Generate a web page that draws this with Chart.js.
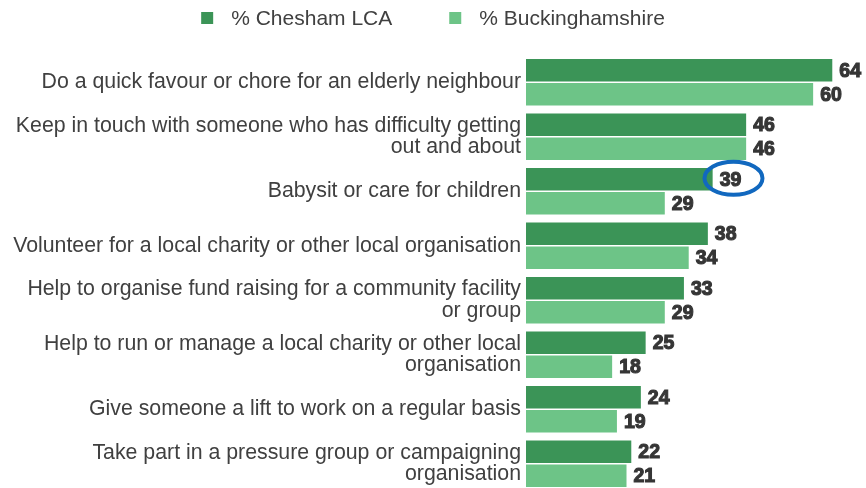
<!DOCTYPE html>
<html>
<head>
<meta charset="utf-8">
<script src="https://cdn.jsdelivr.net/npm/chart.js@4.4.1/dist/chart.umd.min.js"></script>
<style>
  html, body { margin: 0; padding: 0; background: #ffffff; overflow: hidden; }
  #wrap { width: 866px; height: 488px; overflow: hidden; }
  canvas { display: block; }
</style>
</head>
<body>
<div id="wrap"><canvas id="c" width="866" height="491"></canvas></div>
<script>
const categories = [
  "Do a quick favour or chore for an elderly neighbour",
  ["Keep in touch with someone who has difficulty getting", "out and about"],
  "Babysit or care for children",
  "Volunteer for a local charity or other local organisation",
  ["Help to organise fund raising for a community facility", "or group"],
  ["Help to run or manage a local charity or other local", "organisation"],
  "Give someone a lift to work on a regular basis",
  ["Take part in a pressure group or campaigning", "organisation"]
];
const seriesNames = ["% Chesham LCA", "% Buckinghamshire"];
const cheshamValues = [64, 46, 39, 38, 33, 25, 24, 22];
const buckinghamshireValues = [60, 46, 29, 34, 29, 18, 19, 21];
const highlighted = { dataset: 0, index: 2 };

const DARK = '#3b9457';
const LIGHT = '#6dc487';
const FONT = "'Liberation Sans', Arial, sans-serif";

const legendPlugin = {
  id: 'customLegend',
  afterDraw(chart) {
    const ctx = chart.ctx;
    ctx.save();
    ctx.font = '21px ' + FONT;
    ctx.textBaseline = 'middle';
    ctx.textAlign = 'left';
    const box = 12, gapText = 18, gapItem = 57;
    const items = chart.data.datasets.map(d => ({ text: d.label, color: d.backgroundColor, w: ctx.measureText(d.label).width }));
    let total = 0;
    items.forEach((it, i) => { total += box + gapText + it.w + (i < items.length - 1 ? gapItem : 0); });
    let x = (chart.width - total) / 2;
    const cy = 18;
    items.forEach(it => {
      ctx.fillStyle = it.color;
      ctx.fillRect(x, cy - box / 2, box, box);
      ctx.fillStyle = '#404040';
      ctx.fillText(it.text, x + box + gapText, cy + 1);
      x += box + gapText + it.w + gapItem;
    });
    ctx.restore();
  }
};

const valueLabelPlugin = {
  id: 'valueLabels',
  afterDatasetsDraw(chart) {
    const ctx = chart.ctx;
    ctx.save();
    ctx.font = 'bold 19.5px ' + FONT;
    ctx.textBaseline = 'middle';
    ctx.textAlign = 'left';
    ctx.fillStyle = '#363636';
    ctx.strokeStyle = '#363636';
    ctx.lineWidth = 1.1;
    chart.data.datasets.forEach((ds, di) => {
      const meta = chart.getDatasetMeta(di);
      meta.data.forEach((bar, i) => {
        const txt = String(ds.data[i]);
        const tx = bar.x + 7, ty = bar.y + 1;
        ctx.fillText(txt, tx, ty);
        ctx.strokeText(txt, tx, ty);
        if (di === highlighted.dataset && i === highlighted.index) {
          const w = ctx.measureText(txt).width;
          ctx.save();
          ctx.beginPath();
          ctx.ellipse(tx + w / 2 + 3, bar.y - 1, 29, 16.5, 0, 0, Math.PI * 2);
          ctx.lineWidth = 4;
          ctx.strokeStyle = '#1168bf';
          ctx.stroke();
          ctx.restore();
        }
      });
    });
    ctx.restore();
  }
};

new Chart(document.getElementById('c'), {
  type: 'bar',
  data: {
    labels: categories,
    datasets: [
      { label: seriesNames[0], data: cheshamValues, backgroundColor: DARK,
        categoryPercentage: 0.88, barPercentage: 0.9375 },
      { label: seriesNames[1], data: buckinghamshireValues, backgroundColor: LIGHT,
        categoryPercentage: 0.88, barPercentage: 0.9375 }
    ]
  },
  options: {
    indexAxis: 'y',
    responsive: false,
    animation: false,
    devicePixelRatio: 1,
    layout: { padding: { top: 55, right: 5, bottom: 0, left: 0 } },
    plugins: {
      legend: { display: false },
      tooltip: { enabled: false }
    },
    scales: {
      x: {
        display: false,
        min: 0,
        max: 70
      },
      y: {
        grid: { display: false, drawTicks: false },
        border: { display: false },
        ticks: {
          color: '#404040',
          padding: 5,
          font: { family: FONT, size: 21.3, lineHeight: 1.02 },
          autoSkip: false
        },
        afterFit(scale) {
          scale.width = 526;
          scale.paddingTop = 0;
          scale.paddingBottom = 0;
        }
      }
    }
  },
  plugins: [legendPlugin, valueLabelPlugin]
});
</script>
</body>
</html>
